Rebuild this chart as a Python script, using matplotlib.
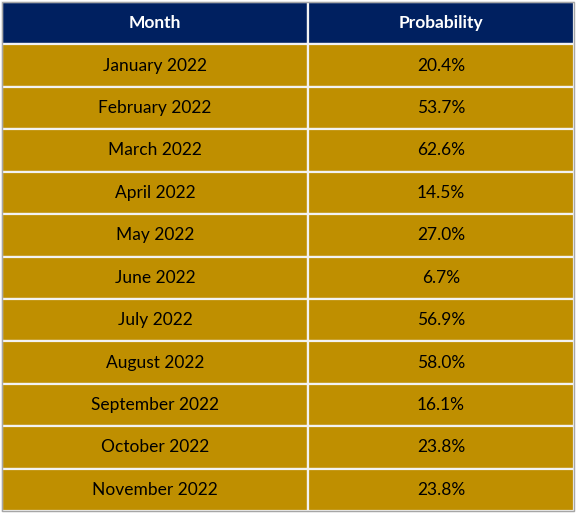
import matplotlib
matplotlib.use("Agg")
import matplotlib.pyplot as plt
from matplotlib.patches import Rectangle

headers = ["Month", "Probability"]
months = ["January 2022", "February 2022", "March 2022", "April 2022", "May 2022",
          "June 2022", "July 2022", "August 2022", "September 2022", "October 2022",
          "November 2022"]
probs = [20.4, 53.7, 62.6, 14.5, 27.0, 6.7, 56.9, 58.0, 16.1, 23.8, 23.8]

W, H = 576, 513
fig = plt.figure(figsize=(W/100, H/100), dpi=100)
ax = fig.add_axes([0, 0, 1, 1])
ax.set_xlim(0, W); ax.set_ylim(H, 0); ax.axis("off")

x0, x1, xm = 2, 574, 308
top, bot = 2, 511
n = len(months) + 1
rh = (bot - top) / n
navy, gold = "#002060", "#BF8F00"
font = "Lato"
for i in range(n):
    y = top + i*rh
    c = navy if i == 0 else gold
    for (a, b) in [(x0, xm), (xm, x1)]:
        ax.add_patch(Rectangle((a, y), b-a, rh, facecolor=c, edgecolor="#F2F2F2", lw=1.6))
    if i == 0:
        texts = headers; col = "white"; wt = "bold"
    else:
        texts = [months[i-1], f"{probs[i-1]:.1f}%"]; col = "black"; wt = "normal"
    ax.text((x0+xm)/2, y+rh/2, texts[0], ha="center", va="center", color=col, fontsize=12.5, fontweight=wt, family=font)
    ax.text((xm+x1)/2, y+rh/2, texts[1], ha="center", va="center", color=col, fontsize=12.5, fontweight=wt, family=font)
ax.add_patch(Rectangle((x0, top), x1-x0, bot-top, fill=False, edgecolor="#A6A6A6", lw=1))
fig.savefig("out.png", dpi=100)
